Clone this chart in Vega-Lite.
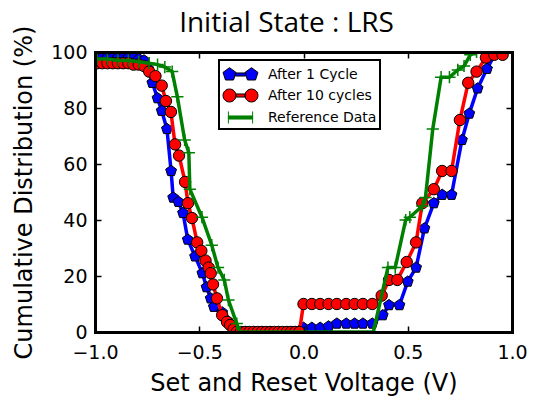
{
  "$schema": "https://vega.github.io/schema/vega-lite/v6.json",
  "width": 417,
  "height": 280,
  "autosize": {"type": "none"},
  "padding": {"left": 95, "top": 52, "right": 28, "bottom": 68},
  "background": "white",
  "title": {"text": "Initial State : LRS", "font": "Open Sans", "fontSize": 28, "fontWeight": "normal", "color": "black", "anchor": "middle", "dx": -17, "offset": -35, "baseline": "alphabetic"},
  "config": {"view": {"stroke": null}, "font": "DejaVu Sans", "legend": {"strokeWidth": 2}},
  "data": {"values": [
    {"s": "After 1 Cycle", "v": -0.99, "p": 98}, {"s": "After 1 Cycle", "v": -0.965, "p": 98}, {"s": "After 1 Cycle", "v": -0.94, "p": 98}, {"s": "After 1 Cycle", "v": -0.915, "p": 98}, {"s": "After 1 Cycle", "v": -0.89, "p": 98}, {"s": "After 1 Cycle", "v": -0.865, "p": 98}, {"s": "After 1 Cycle", "v": -0.84, "p": 98}, {"s": "After 1 Cycle", "v": -0.815, "p": 98}, {"s": "After 1 Cycle", "v": -0.79, "p": 97.5}, {"s": "After 1 Cycle", "v": -0.765, "p": 97}, {"s": "After 1 Cycle", "v": -0.745, "p": 94}, {"s": "After 1 Cycle", "v": -0.725, "p": 89}, {"s": "After 1 Cycle", "v": -0.70, "p": 83.5}, {"s": "After 1 Cycle", "v": -0.68, "p": 79}, {"s": "After 1 Cycle", "v": -0.655, "p": 72.5}, {"s": "After 1 Cycle", "v": -0.635, "p": 57.5}, {"s": "After 1 Cycle", "v": -0.625, "p": 48}, {"s": "After 1 Cycle", "v": -0.60, "p": 46.5}, {"s": "After 1 Cycle", "v": -0.578, "p": 42.5}, {"s": "After 1 Cycle", "v": -0.555, "p": 33}, {"s": "After 1 Cycle", "v": -0.52, "p": 27}, {"s": "After 1 Cycle", "v": -0.485, "p": 21}, {"s": "After 1 Cycle", "v": -0.465, "p": 16}, {"s": "After 1 Cycle", "v": -0.445, "p": 12}, {"s": "After 1 Cycle", "v": -0.43, "p": 9}, {"s": "After 1 Cycle", "v": -0.39, "p": 7}, {"s": "After 1 Cycle", "v": -0.365, "p": 4}, {"s": "After 1 Cycle", "v": -0.34, "p": 2}, {"s": "After 1 Cycle", "v": -0.32, "p": 0}, {"s": "After 1 Cycle", "v": -0.28, "p": 0}, {"s": "After 1 Cycle", "v": -0.24, "p": 0}, {"s": "After 1 Cycle", "v": -0.20, "p": 0}, {"s": "After 1 Cycle", "v": -0.16, "p": 0}, {"s": "After 1 Cycle", "v": -0.12, "p": 0}, {"s": "After 1 Cycle", "v": -0.08, "p": 0}, {"s": "After 1 Cycle", "v": -0.04, "p": 0},
    {"s": "After 1 Cycle", "v": 0.0, "p": 1.5}, {"s": "After 1 Cycle", "v": 0.04, "p": 1.5}, {"s": "After 1 Cycle", "v": 0.08, "p": 1.5}, {"s": "After 1 Cycle", "v": 0.12, "p": 2}, {"s": "After 1 Cycle", "v": 0.16, "p": 3}, {"s": "After 1 Cycle", "v": 0.205, "p": 3}, {"s": "After 1 Cycle", "v": 0.245, "p": 3}, {"s": "After 1 Cycle", "v": 0.285, "p": 3}, {"s": "After 1 Cycle", "v": 0.33, "p": 3}, {"s": "After 1 Cycle", "v": 0.38, "p": 6}, {"s": "After 1 Cycle", "v": 0.41, "p": 9.6}, {"s": "After 1 Cycle", "v": 0.46, "p": 9.6}, {"s": "After 1 Cycle", "v": 0.50, "p": 18}, {"s": "After 1 Cycle", "v": 0.54, "p": 23}, {"s": "After 1 Cycle", "v": 0.58, "p": 37}, {"s": "After 1 Cycle", "v": 0.625, "p": 46}, {"s": "After 1 Cycle", "v": 0.665, "p": 49}, {"s": "After 1 Cycle", "v": 0.71, "p": 49}, {"s": "After 1 Cycle", "v": 0.76, "p": 68.6}, {"s": "After 1 Cycle", "v": 0.795, "p": 78}, {"s": "After 1 Cycle", "v": 0.835, "p": 87}, {"s": "After 1 Cycle", "v": 0.88, "p": 94}, {"s": "After 1 Cycle", "v": 0.92, "p": 99.5},
    {"s": "After 10 cycles", "v": -0.99, "p": 96}, {"s": "After 10 cycles", "v": -0.965, "p": 96}, {"s": "After 10 cycles", "v": -0.94, "p": 96}, {"s": "After 10 cycles", "v": -0.915, "p": 96}, {"s": "After 10 cycles", "v": -0.89, "p": 96}, {"s": "After 10 cycles", "v": -0.865, "p": 96}, {"s": "After 10 cycles", "v": -0.84, "p": 96}, {"s": "After 10 cycles", "v": -0.815, "p": 95.5}, {"s": "After 10 cycles", "v": -0.79, "p": 95.5}, {"s": "After 10 cycles", "v": -0.765, "p": 95}, {"s": "After 10 cycles", "v": -0.74, "p": 93}, {"s": "After 10 cycles", "v": -0.71, "p": 91.4}, {"s": "After 10 cycles", "v": -0.68, "p": 88}, {"s": "After 10 cycles", "v": -0.66, "p": 82.5}, {"s": "After 10 cycles", "v": -0.636, "p": 78.6}, {"s": "After 10 cycles", "v": -0.616, "p": 67}, {"s": "After 10 cycles", "v": -0.597, "p": 63}, {"s": "After 10 cycles", "v": -0.568, "p": 53.6}, {"s": "After 10 cycles", "v": -0.554, "p": 46}, {"s": "After 10 cycles", "v": -0.535, "p": 40.7}, {"s": "After 10 cycles", "v": -0.51, "p": 32}, {"s": "After 10 cycles", "v": -0.49, "p": 29}, {"s": "After 10 cycles", "v": -0.47, "p": 25.5}, {"s": "After 10 cycles", "v": -0.455, "p": 23}, {"s": "After 10 cycles", "v": -0.445, "p": 21}, {"s": "After 10 cycles", "v": -0.434, "p": 17}, {"s": "After 10 cycles", "v": -0.415, "p": 12}, {"s": "After 10 cycles", "v": -0.39, "p": 6}, {"s": "After 10 cycles", "v": -0.367, "p": 3.6}, {"s": "After 10 cycles", "v": -0.352, "p": 2.5}, {"s": "After 10 cycles", "v": -0.335, "p": 1}, {"s": "After 10 cycles", "v": -0.32, "p": 0}, {"s": "After 10 cycles", "v": -0.30, "p": 0}, {"s": "After 10 cycles", "v": -0.28, "p": 0}, {"s": "After 10 cycles", "v": -0.26, "p": 0}, {"s": "After 10 cycles", "v": -0.24, "p": 0}, {"s": "After 10 cycles", "v": -0.22, "p": 0}, {"s": "After 10 cycles", "v": -0.20, "p": 0}, {"s": "After 10 cycles", "v": -0.18, "p": 0}, {"s": "After 10 cycles", "v": -0.16, "p": 0}, {"s": "After 10 cycles", "v": -0.14, "p": 0}, {"s": "After 10 cycles", "v": -0.12, "p": 0}, {"s": "After 10 cycles", "v": -0.10, "p": 0}, {"s": "After 10 cycles", "v": -0.08, "p": 0}, {"s": "After 10 cycles", "v": -0.06, "p": 0}, {"s": "After 10 cycles", "v": -0.04, "p": 0}, {"s": "After 10 cycles", "v": -0.02, "p": 0},
    {"s": "After 10 cycles", "v": 0.0, "p": 10}, {"s": "After 10 cycles", "v": 0.04, "p": 10}, {"s": "After 10 cycles", "v": 0.08, "p": 10}, {"s": "After 10 cycles", "v": 0.12, "p": 10}, {"s": "After 10 cycles", "v": 0.16, "p": 10}, {"s": "After 10 cycles", "v": 0.205, "p": 10}, {"s": "After 10 cycles", "v": 0.245, "p": 10}, {"s": "After 10 cycles", "v": 0.285, "p": 10}, {"s": "After 10 cycles", "v": 0.33, "p": 10}, {"s": "After 10 cycles", "v": 0.375, "p": 13}, {"s": "After 10 cycles", "v": 0.41, "p": 18.6}, {"s": "After 10 cycles", "v": 0.45, "p": 18.6}, {"s": "After 10 cycles", "v": 0.495, "p": 25}, {"s": "After 10 cycles", "v": 0.54, "p": 32}, {"s": "After 10 cycles", "v": 0.57, "p": 46}, {"s": "After 10 cycles", "v": 0.625, "p": 51}, {"s": "After 10 cycles", "v": 0.665, "p": 57.5}, {"s": "After 10 cycles", "v": 0.71, "p": 57.5}, {"s": "After 10 cycles", "v": 0.75, "p": 75.7}, {"s": "After 10 cycles", "v": 0.79, "p": 89}, {"s": "After 10 cycles", "v": 0.83, "p": 93}, {"s": "After 10 cycles", "v": 0.875, "p": 98}, {"s": "After 10 cycles", "v": 0.915, "p": 99}, {"s": "After 10 cycles", "v": 0.955, "p": 99},
    {"s": "Reference Data", "v": -0.99, "p": 97.5}, {"s": "Reference Data", "v": -0.94, "p": 97.5}, {"s": "Reference Data", "v": -0.89, "p": 97}, {"s": "Reference Data", "v": -0.84, "p": 97}, {"s": "Reference Data", "v": -0.79, "p": 96.5}, {"s": "Reference Data", "v": -0.74, "p": 96}, {"s": "Reference Data", "v": -0.70, "p": 95.5}, {"s": "Reference Data", "v": -0.665, "p": 94.6}, {"s": "Reference Data", "v": -0.63, "p": 93}, {"s": "Reference Data", "v": -0.605, "p": 84}, {"s": "Reference Data", "v": -0.57, "p": 68.6}, {"s": "Reference Data", "v": -0.55, "p": 64}, {"s": "Reference Data", "v": -0.545, "p": 51}, {"s": "Reference Data", "v": -0.487, "p": 41}, {"s": "Reference Data", "v": -0.44, "p": 31}, {"s": "Reference Data", "v": -0.41, "p": 23}, {"s": "Reference Data", "v": -0.38, "p": 18.6}, {"s": "Reference Data", "v": -0.36, "p": 11.4}, {"s": "Reference Data", "v": -0.32, "p": 3}, {"s": "Reference Data", "v": -0.305, "p": 0}, {"s": "Reference Data", "v": 0.335, "p": 0}, {"s": "Reference Data", "v": 0.405, "p": 23}, {"s": "Reference Data", "v": 0.44, "p": 23}, {"s": "Reference Data", "v": 0.49, "p": 40}, {"s": "Reference Data", "v": 0.51, "p": 41}, {"s": "Reference Data", "v": 0.57, "p": 45}, {"s": "Reference Data", "v": 0.585, "p": 48}, {"s": "Reference Data", "v": 0.62, "p": 72.5}, {"s": "Reference Data", "v": 0.66, "p": 91}, {"s": "Reference Data", "v": 0.70, "p": 91}, {"s": "Reference Data", "v": 0.74, "p": 93.6}, {"s": "Reference Data", "v": 0.77, "p": 95}, {"s": "Reference Data", "v": 0.80, "p": 99}, {"s": "Reference Data", "v": 0.83, "p": 100}
  ]},
  "resolve": {"axis": {"x": "independent", "y": "independent"}},
  "layer": [
    {
      "transform": [{"filter": "datum.s == 'After 1 Cycle'"}],
      "mark": {"type": "line", "color": "#0000ff", "strokeWidth": 3.5, "clip": true},
      "encoding": {
        "x": {"field": "v", "type": "quantitative", "scale": {"domain": [-1, 1], "nice": false, "zero": false},
          "axis": {"orient": "bottom", "values": [-1, -0.5, 0, 0.5, 1], "format": ".1f", "title": "Set and Reset Voltage (V)", "grid": false, "domainColor": "black", "domainWidth": 3, "domainCap": "square", "tickColor": "black", "tickWidth": 1.5, "tickSize": -6, "labelPadding": 17, "labelFont": "DejaVu Sans", "labelFontSize": 19, "labelColor": "black", "labelFlush": false, "labelOverlap": false, "titleFont": "DejaVu Sans", "titleFontSize": 24, "titleFontWeight": "normal", "titleColor": "black", "titlePadding": 9, "zindex": 1}},
        "y": {"field": "p", "type": "quantitative", "scale": {"domain": [0, 100], "nice": false},
          "axis": {"orient": "left", "values": [0, 20, 40, 60, 80, 100], "title": "Cumulative Distribution (%)", "grid": false, "domainColor": "black", "domainWidth": 3, "domainCap": "square", "tickColor": "black", "tickWidth": 1.5, "tickSize": -6, "labelPadding": 14, "labelFont": "DejaVu Sans", "labelFontSize": 19, "labelColor": "black", "labelFlush": false, "labelOverlap": false, "titleFont": "DejaVu Sans", "titleFontSize": 24, "titleFontWeight": "normal", "titleColor": "black", "titlePadding": 14, "zindex": 1}}
      }
    },
    {
      "transform": [{"filter": "datum.s == 'After 1 Cycle'"}],
      "mark": {"type": "point", "shape": "M0,-1L0.951,-0.309L0.588,0.809L-0.588,0.809L-0.951,-0.309Z", "filled": true, "fill": "#0000ff", "stroke": "black", "strokeWidth": 1, "size": 130, "opacity": 1, "clip": true},
      "encoding": {
        "x": {"field": "v", "type": "quantitative", "axis": {"orient": "top", "values": [-1, -0.5, 0, 0.5, 1], "labels": false, "title": null, "grid": false, "domainColor": "black", "domainWidth": 3, "domainCap": "square", "tickColor": "black", "tickWidth": 1.5, "tickSize": -6, "zindex": 1}},
        "y": {"field": "p", "type": "quantitative", "axis": {"orient": "right", "values": [0, 20, 40, 60, 80, 100], "labels": false, "title": null, "grid": false, "domainColor": "black", "domainWidth": 3, "domainCap": "square", "tickColor": "black", "tickWidth": 1.5, "tickSize": -6, "zindex": 1}}
      }
    },
    {
      "transform": [{"filter": "datum.s == 'After 10 cycles'"}],
      "mark": {"type": "line", "color": "#ff0000", "strokeWidth": 3.5, "clip": true},
      "encoding": {
        "x": {"field": "v", "type": "quantitative", "axis": null},
        "y": {"field": "p", "type": "quantitative", "axis": null}
      }
    },
    {
      "transform": [{"filter": "datum.s == 'After 10 cycles'"}],
      "mark": {"type": "point", "shape": "circle", "filled": true, "fill": "#ff0000", "stroke": "black", "strokeWidth": 1, "size": 130, "opacity": 1, "clip": true},
      "encoding": {
        "x": {"field": "v", "type": "quantitative", "axis": null},
        "y": {"field": "p", "type": "quantitative", "axis": null}
      }
    },
    {
      "transform": [{"filter": "datum.s == 'Reference Data'"}],
      "mark": {"type": "line", "color": "#008000", "strokeWidth": 3.5, "clip": true},
      "encoding": {
        "x": {"field": "v", "type": "quantitative", "axis": null},
        "y": {"field": "p", "type": "quantitative", "axis": null}
      }
    },
    {
      "transform": [{"filter": "datum.s == 'Reference Data'"}],
      "mark": {"type": "point", "shape": "M-1,0L1,0M0,-1L0,1", "filled": false, "stroke": "#008000", "strokeWidth": 1.5, "size": 150, "opacity": 1, "clip": true},
      "encoding": {
        "x": {"field": "v", "type": "quantitative", "axis": null},
        "y": {"field": "p", "type": "quantitative", "axis": null}
      }
    },
    {
      "transform": [{"filter": "datum.s == 'none'"}],
      "mark": {"type": "point", "filled": true, "strokeWidth": 1, "opacity": 1},
      "encoding": {
        "x": {"field": "v", "type": "quantitative", "axis": null},
        "y": {"field": "p", "type": "quantitative", "axis": null},
        "fill": {"field": "s", "type": "nominal", "scale": {"domain": ["After 1 Cycle", "After 10 cycles", "Reference Data"], "range": ["#0000ff", "#ff0000", "#008000"]},
          "legend": {"title": null, "orient": "none", "legendX": 124, "legendY": 8, "strokeColor": "black", "fillColor": "white", "padding": 3, "symbolSize": 484, "symbolOffset": 7, "symbolStrokeWidth": 1, "labelOffset": 16, "rowPadding": 2, "labelFont": "DejaVu Sans", "labelFontSize": 14, "labelColor": "black", "cornerRadius": 0}},
        "stroke": {"field": "s", "type": "nominal", "scale": {"domain": ["After 1 Cycle", "After 10 cycles", "Reference Data"], "range": ["black", "black", "#008000"]},
          "legend": {"title": null, "orient": "none", "legendX": 124, "legendY": 8, "strokeColor": "black", "fillColor": "white", "padding": 3, "symbolSize": 484, "symbolOffset": 7, "symbolStrokeWidth": 1, "labelOffset": 16, "rowPadding": 2, "labelFont": "DejaVu Sans", "labelFontSize": 14, "labelColor": "black", "cornerRadius": 0}},
        "shape": {"field": "s", "type": "nominal", "scale": {"domain": ["After 1 Cycle", "After 10 cycles", "Reference Data"], "range": [
          "M-1,-0.62L-0.41,-0.19L-0.636,0.5L-1.364,0.5L-1.59,-0.19ZM1,-0.62L1.59,-0.19L1.364,0.5L0.636,0.5L0.41,-0.19ZM-0.47,-0.14L0.47,-0.14L0.47,0.14L-0.47,0.14Z",
          "M-0.41,0A0.59,0.59,0,1,1,-1.59,0A0.59,0.59,0,1,1,-0.41,0ZM1.59,0A0.59,0.59,0,1,1,0.41,0A0.59,0.59,0,1,1,1.59,0ZM-0.41,-0.14L0.41,-0.14L0.41,0.14L-0.41,0.14Z",
          "M-1.1,-0.14L1.1,-0.14L1.1,0.14L-1.1,0.14ZM-1.1,-0.55L-1.1,0.55M1.1,-0.55L1.1,0.55"]},
          "legend": {"title": null, "orient": "none", "legendX": 124, "legendY": 8, "strokeColor": "black", "fillColor": "white", "padding": 3, "symbolSize": 484, "symbolOffset": 7, "symbolStrokeWidth": 1, "labelOffset": 16, "rowPadding": 2, "labelFont": "DejaVu Sans", "labelFontSize": 14, "labelColor": "black", "cornerRadius": 0}}
      }
    }
  ]
}
